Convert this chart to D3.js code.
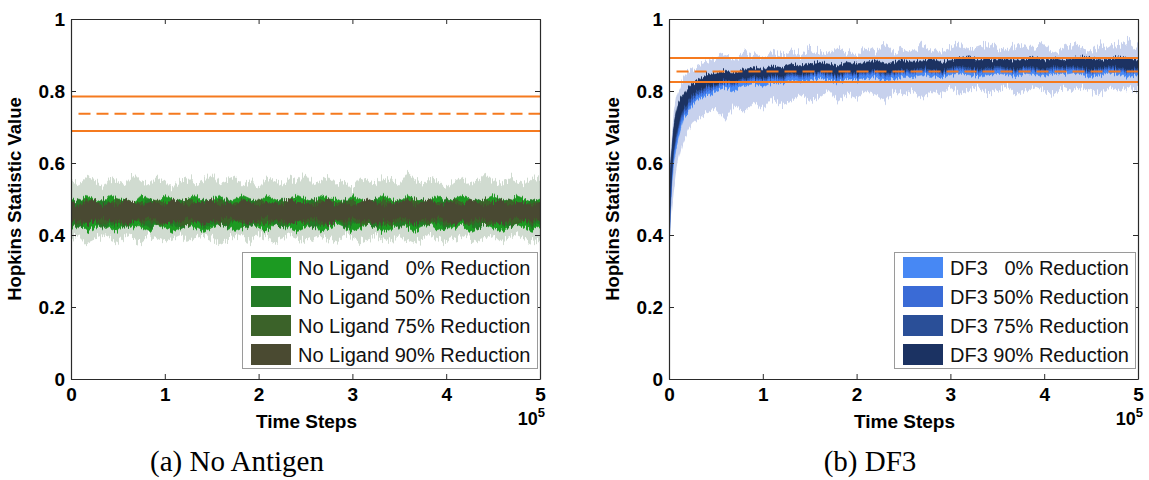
<!DOCTYPE html>
<html><head><meta charset="utf-8">
<script src="https://cdn.jsdelivr.net/npm/d3@7"></script>
<style>
body{margin:0;background:#fff}
svg{display:block}
text{font-family:"Liberation Sans",Arial,Helvetica,sans-serif}
</style>
</head><body>
<svg id="chart" width="1149" height="480">
<defs>
  <filter id="noiseTrace" x="-2%" y="-60%" width="104%" height="220%">
    <feTurbulence type="fractalNoise" baseFrequency="0.9 0.015" numOctaves="2" seed="3" result="t"/>
    <feColorMatrix in="t" type="matrix" values="0 0 0 0 0.5  0 1 0 0 0  0 0 1 0 0  0 0 0 0 1" result="n"/>
    <feDisplacementMap in="SourceGraphic" in2="n" scale="10" xChannelSelector="R" yChannelSelector="G"/>
  </filter>
  <filter id="noiseEnv" x="-2%" y="-60%" width="104%" height="220%">
    <feTurbulence type="fractalNoise" baseFrequency="0.8 0.01" numOctaves="2" seed="7" result="t"/>
    <feColorMatrix in="t" type="matrix" values="0 0 0 0 0.5  0 1 0 0 0  0 0 1 0 0  0 0 0 0 1" result="n"/>
    <feDisplacementMap in="SourceGraphic" in2="n" scale="18" xChannelSelector="R" yChannelSelector="G"/>
  </filter>
</defs>
</svg>
<script>
// ---------- tick labels / categories ----------
const xTicks = [0, 1, 2, 3, 4, 5];
const xTickLabels = ["0", "1", "2", "3", "4", "5"];
const yTicks = [0, 0.2, 0.4, 0.6, 0.8, 1];
const yTickLabels = ["0", "0.2", "0.4", "0.6", "0.8", "1"];

// reference lines: upper solid, dashed, lower solid
const leftRef = [0.785, 0.737, 0.689];
const rightRef = [0.892, 0.854, 0.825];

const leftLegend = ["No Ligand   0% Reduction", "No Ligand 50% Reduction", "No Ligand 75% Reduction", "No Ligand 90% Reduction"];
const rightLegend = ["DF3   0% Reduction", "DF3 50% Reduction", "DF3 75% Reduction", "DF3 90% Reduction"];
const leftColors = ["#1c9a22", "#237a26", "#3b6229", "#4a4a31"];
const rightColors = ["#4788f4", "#3a6bd6", "#2a4f98", "#1b3262"];

// ---------- left panel (No Antigen), values sampled evenly over 0..5 (x10^5) ----------
const leftEnvHi = [
0.55,0.54,0.56,0.55,0.53,0.56,0.55,0.54,0.57,0.55,
0.54,0.56,0.55,0.53,0.55,0.56,0.54,0.55,0.57,0.54,
0.55,0.56,0.54,0.55,0.53,0.56,0.55,0.54,0.56,0.55,
0.57,0.54,0.55,0.56,0.54,0.55,0.53,0.56,0.55,0.54,
0.56,0.55,0.54,0.57,0.55,0.54,0.56,0.55,0.53,0.55,
0.56,0.54,0.55,0.57,0.55,0.54,0.56,0.55,0.54,0.56,
0.55];
const leftEnvLo = [
0.39,0.40,0.38,0.39,0.40,0.39,0.38,0.40,0.39,0.38,
0.40,0.39,0.38,0.39,0.40,0.38,0.39,0.40,0.39,0.38,
0.39,0.40,0.39,0.38,0.40,0.39,0.38,0.39,0.40,0.39,
0.38,0.39,0.40,0.39,0.38,0.40,0.39,0.38,0.39,0.40,
0.39,0.38,0.40,0.39,0.38,0.39,0.40,0.39,0.38,0.39,
0.40,0.39,0.38,0.39,0.40,0.38,0.39,0.40,0.39,0.38,
0.39];
const left0Hi = [
0.50,0.49,0.51,0.50,0.49,0.51,0.50,0.50,0.49,0.51,
0.50,0.49,0.51,0.50,0.49,0.50,0.51,0.49,0.50,0.51,
0.49,0.50,0.51,0.50,0.49,0.51,0.50,0.49,0.50,0.51,
0.50,0.49,0.51,0.50,0.50,0.49,0.51,0.50,0.49,0.50,
0.51,0.50,0.49,0.51,0.50,0.49,0.50,0.51,0.49,0.50,
0.51,0.50,0.49,0.50,0.51,0.50,0.49,0.51,0.50,0.49,
0.50];
const left0Lo = [
0.42,0.43,0.41,0.42,0.43,0.42,0.41,0.43,0.42,0.42,
0.41,0.43,0.42,0.41,0.42,0.43,0.42,0.41,0.42,0.43,
0.42,0.41,0.42,0.43,0.42,0.41,0.43,0.42,0.42,0.41,
0.42,0.43,0.41,0.42,0.43,0.42,0.41,0.42,0.43,0.42,
0.41,0.42,0.43,0.42,0.41,0.42,0.43,0.41,0.42,0.42,
0.43,0.41,0.42,0.43,0.42,0.41,0.42,0.43,0.42,0.41,
0.42];
const left50Hi = [
0.49,0.50,0.49,0.48,0.50,0.49,0.49,0.50,0.48,0.49,
0.50,0.49,0.48,0.49,0.50,0.49,0.48,0.50,0.49,0.49,
0.50,0.48,0.49,0.50,0.49,0.48,0.49,0.50,0.49,0.48,
0.49,0.50,0.49,0.49,0.48,0.50,0.49,0.48,0.49,0.50,
0.49,0.48,0.50,0.49,0.49,0.50,0.48,0.49,0.50,0.49,
0.48,0.49,0.50,0.49,0.48,0.49,0.50,0.49,0.48,0.50,
0.49];
const left50Lo = [
0.43,0.42,0.43,0.44,0.42,0.43,0.43,0.42,0.44,0.43,
0.42,0.43,0.44,0.43,0.42,0.43,0.44,0.42,0.43,0.43,
0.42,0.44,0.43,0.42,0.43,0.44,0.43,0.42,0.43,0.44,
0.43,0.42,0.43,0.43,0.44,0.42,0.43,0.44,0.43,0.42,
0.43,0.44,0.42,0.43,0.43,0.42,0.44,0.43,0.42,0.43,
0.44,0.43,0.42,0.43,0.44,0.43,0.42,0.43,0.44,0.42,
0.43];
const left75Hi = [
0.49,0.48,0.50,0.49,0.48,0.49,0.50,0.48,0.49,0.49,
0.48,0.50,0.49,0.48,0.49,0.50,0.49,0.48,0.49,0.50,
0.48,0.49,0.49,0.48,0.50,0.49,0.48,0.49,0.50,0.49,
0.48,0.49,0.50,0.48,0.49,0.49,0.50,0.48,0.49,0.48,
0.50,0.49,0.48,0.49,0.50,0.48,0.49,0.49,0.48,0.50,
0.49,0.48,0.49,0.50,0.49,0.48,0.50,0.49,0.48,0.49,
0.49];
const left75Lo = [
0.44,0.43,0.43,0.44,0.43,0.44,0.43,0.43,0.44,0.43,
0.44,0.43,0.43,0.44,0.43,0.43,0.44,0.43,0.44,0.43,
0.43,0.44,0.43,0.44,0.43,0.43,0.44,0.43,0.43,0.44,
0.43,0.44,0.43,0.43,0.44,0.43,0.44,0.43,0.43,0.44,
0.43,0.43,0.44,0.43,0.44,0.43,0.43,0.44,0.43,0.43,
0.44,0.43,0.44,0.43,0.43,0.44,0.43,0.43,0.44,0.43,
0.44];
const left90Hi = [
0.49,0.48,0.49,0.50,0.48,0.49,0.48,0.50,0.49,0.48,
0.49,0.49,0.48,0.50,0.49,0.48,0.49,0.49,0.50,0.48,
0.49,0.48,0.50,0.49,0.48,0.49,0.49,0.48,0.50,0.49,
0.49,0.48,0.49,0.50,0.48,0.49,0.48,0.49,0.50,0.49,
0.48,0.49,0.49,0.50,0.48,0.49,0.50,0.48,0.49,0.49,
0.48,0.50,0.49,0.48,0.49,0.50,0.48,0.49,0.49,0.48,
0.49];
const left90Lo = [
0.44,0.44,0.43,0.44,0.45,0.44,0.44,0.43,0.44,0.44,
0.45,0.44,0.43,0.44,0.44,0.45,0.44,0.43,0.44,0.44,
0.45,0.44,0.44,0.43,0.44,0.45,0.44,0.44,0.43,0.44,
0.44,0.45,0.44,0.43,0.44,0.44,0.45,0.44,0.44,0.43,
0.44,0.44,0.45,0.44,0.43,0.44,0.44,0.45,0.44,0.43,
0.44,0.44,0.45,0.44,0.44,0.43,0.44,0.45,0.44,0.44,
0.44];

// ---------- right panel (DF3), sampled at these times (x10^5) ----------
const rightTime = [0,0.01,0.02,0.03,0.05,0.075,0.1,0.15,0.2,0.25,0.3,0.4,0.5,
0.6,0.7,0.8,0.9,1.0,1.1,1.2,1.3,1.4,1.5,
1.6,1.7,1.8,1.9,2.0,2.1,2.2,2.3,2.4,2.5,
2.6,2.7,2.8,2.9,3.0,3.1,3.2,3.3,3.4,3.5,
3.6,3.7,3.8,3.9,4.0,4.1,4.2,4.3,4.4,4.5,
4.6,4.7,4.8,4.9,5.0];
const rightEnvHi = [0.42,0.56,0.63,0.68,0.74,0.78,0.80,0.83,0.85,0.86,0.87,0.88,0.89,
0.90,0.89,0.91,0.90,0.89,0.91,0.90,0.91,0.90,0.92,
0.91,0.90,0.92,0.91,0.90,0.92,0.91,0.93,0.91,0.92,
0.91,0.93,0.92,0.91,0.92,0.93,0.91,0.92,0.93,0.92,
0.91,0.93,0.92,0.92,0.93,0.91,0.92,0.93,0.92,0.91,
0.93,0.92,0.93,0.94,0.92];
const rightEnvLo = [0.36,0.40,0.44,0.47,0.52,0.57,0.61,0.66,0.69,0.71,0.72,0.74,0.75,
0.72,0.76,0.74,0.77,0.75,0.78,0.76,0.77,0.79,0.77,
0.78,0.80,0.77,0.79,0.78,0.80,0.79,0.77,0.80,0.79,
0.80,0.78,0.80,0.79,0.81,0.79,0.80,0.81,0.79,0.80,
0.81,0.79,0.80,0.81,0.80,0.79,0.81,0.80,0.81,0.80,
0.79,0.81,0.80,0.81,0.80];
const right0Hi = [0.40,0.50,0.56,0.60,0.66,0.70,0.73,0.77,0.785,0.80,0.81,0.825,0.83,
0.835,0.83,0.84,0.845,0.84,0.85,0.845,0.855,0.85,0.855,
0.86,0.855,0.85,0.86,0.855,0.86,0.865,0.855,0.86,0.865,
0.86,0.865,0.87,0.86,0.865,0.87,0.875,0.865,0.87,0.865,
0.87,0.865,0.87,0.875,0.865,0.87,0.865,0.87,0.875,0.87,
0.865,0.87,0.875,0.87,0.865];
const right0Lo = [0.36,0.43,0.50,0.54,0.60,0.64,0.67,0.72,0.74,0.76,0.775,0.79,0.80,
0.81,0.80,0.815,0.82,0.81,0.825,0.82,0.83,0.825,0.83,
0.835,0.83,0.825,0.835,0.83,0.835,0.84,0.83,0.835,0.84,
0.84,0.845,0.84,0.835,0.845,0.85,0.845,0.84,0.845,0.85,
0.845,0.84,0.85,0.845,0.84,0.85,0.845,0.85,0.845,0.84,
0.845,0.85,0.845,0.84,0.845];
const right50Hi = [0.41,0.51,0.58,0.62,0.68,0.72,0.75,0.78,0.795,0.81,0.82,0.835,0.84,
0.845,0.84,0.85,0.855,0.85,0.86,0.855,0.865,0.86,0.865,
0.87,0.865,0.86,0.87,0.865,0.87,0.875,0.865,0.87,0.875,
0.87,0.875,0.88,0.87,0.875,0.88,0.885,0.875,0.88,0.875,
0.88,0.875,0.88,0.885,0.875,0.88,0.875,0.88,0.885,0.88,
0.875,0.88,0.885,0.88,0.875];
const right50Lo = [0.37,0.45,0.52,0.56,0.62,0.66,0.69,0.73,0.75,0.77,0.785,0.80,0.81,
0.82,0.815,0.825,0.83,0.825,0.835,0.83,0.84,0.835,0.84,
0.845,0.84,0.835,0.845,0.84,0.845,0.85,0.84,0.845,0.85,
0.85,0.855,0.85,0.845,0.855,0.86,0.855,0.85,0.855,0.86,
0.855,0.85,0.86,0.855,0.85,0.86,0.855,0.86,0.855,0.85,
0.855,0.86,0.855,0.85,0.855];
const right75Hi = [0.41,0.52,0.59,0.63,0.69,0.73,0.76,0.785,0.80,0.815,0.825,0.84,0.845,
0.85,0.845,0.855,0.86,0.855,0.865,0.86,0.87,0.865,0.87,
0.875,0.87,0.865,0.875,0.87,0.875,0.88,0.87,0.875,0.88,
0.875,0.88,0.885,0.875,0.88,0.885,0.89,0.88,0.885,0.88,
0.885,0.88,0.885,0.89,0.88,0.885,0.88,0.885,0.89,0.885,
0.88,0.885,0.89,0.885,0.88];
const right75Lo = [0.37,0.46,0.53,0.57,0.63,0.67,0.70,0.74,0.76,0.78,0.79,0.81,0.815,
0.825,0.82,0.83,0.835,0.83,0.84,0.835,0.845,0.84,0.845,
0.85,0.845,0.84,0.85,0.845,0.85,0.855,0.845,0.85,0.855,
0.855,0.86,0.855,0.85,0.86,0.865,0.86,0.855,0.86,0.865,
0.86,0.855,0.865,0.86,0.855,0.865,0.86,0.865,0.86,0.855,
0.86,0.865,0.86,0.855,0.86];
const right90Hi = [0.42,0.53,0.60,0.64,0.70,0.74,0.77,0.79,0.81,0.82,0.83,0.845,0.85,
0.855,0.85,0.86,0.865,0.86,0.87,0.865,0.875,0.87,0.875,
0.88,0.875,0.87,0.88,0.875,0.88,0.885,0.875,0.88,0.885,
0.88,0.885,0.89,0.88,0.885,0.89,0.895,0.885,0.89,0.885,
0.89,0.885,0.89,0.895,0.885,0.89,0.885,0.89,0.895,0.89,
0.885,0.89,0.895,0.89,0.885];
const right90Lo = [0.38,0.47,0.54,0.58,0.64,0.68,0.71,0.75,0.77,0.79,0.80,0.815,0.82,
0.83,0.825,0.835,0.84,0.835,0.845,0.84,0.85,0.845,0.85,
0.855,0.85,0.845,0.855,0.85,0.855,0.86,0.85,0.855,0.86,
0.86,0.865,0.86,0.855,0.865,0.87,0.865,0.86,0.865,0.87,
0.865,0.86,0.87,0.865,0.86,0.87,0.865,0.87,0.865,0.86,
0.865,0.87,0.865,0.86,0.865];

const leftTime = leftEnvHi.map((_, i) => i * 5 / (leftEnvHi.length - 1));

const panels = [
  { x0: 71, x1: 540, time: leftTime, envHi: leftEnvHi, envLo: leftEnvLo, envFill: "#8eaa8e", envOpacity: 0.42,
    series: [[left0Lo, left0Hi], [left50Lo, left50Hi], [left75Lo, left75Hi], [left90Lo, left90Hi]],
    colors: leftColors, legend: leftLegend, ref: leftRef,
    legendBox: { x: 242, w: 295 }, caption: "(a) No Antigen", capX: 237 },
  { x0: 669, x1: 1138, time: rightTime, envHi: rightEnvHi, envLo: rightEnvLo, envFill: "#8fa4dc", envOpacity: 0.5,
    series: [[right0Lo, right0Hi], [right50Lo, right50Hi], [right75Lo, right75Hi], [right90Lo, right90Hi]],
    colors: rightColors, legend: rightLegend, ref: rightRef,
    legendBox: { x: 894, w: 241 }, caption: "(b) DF3", capX: 870 }
];

const svg = d3.select("#chart");
const Y0 = 19, Y1 = 379;
const orange = "#f57a1f";

panels.forEach((p, pi) => {
  const x = d3.scaleLinear().domain([0, 5]).range([p.x0, p.x1]);
  const y = d3.scaleLinear().domain([0, 1]).range([Y1, Y0]);
  const g = svg.append("g");
  const idx = d3.range(p.time.length);

  // clip to plot area
  const clipId = "clip" + pi;
  svg.select("defs").append("clipPath").attr("id", clipId)
    .append("rect").attr("x", p.x0).attr("y", Y0).attr("width", p.x1 - p.x0).attr("height", Y1 - Y0);
  const data = g.append("g").attr("clip-path", `url(#${clipId})`);

  // light envelope
  data.append("g").attr("filter", "url(#noiseEnv)").append("path")
    .attr("d", d3.area().x(i => x(p.time[i])).y0(i => y(p.envLo[i])).y1(i => y(p.envHi[i]))(idx))
    .attr("fill", p.envFill).attr("opacity", p.envOpacity);

  // series traces
  const tr = data.append("g").attr("filter", "url(#noiseTrace)");
  p.series.forEach((s, k) => {
    tr.append("path")
      .attr("d", d3.area().x(i => x(p.time[i])).y0(i => y(s[0][i])).y1(i => y(s[1][i]))(idx))
      .attr("fill", p.colors[k]).attr("stroke", p.colors[k]).attr("stroke-width", 0.6);
  });

  // reference lines
  p.ref.forEach((v, k) => {
    g.append("line")
      .attr("x1", k === 1 ? x(0.08) : x(0)).attr("x2", x(5))
      .attr("y1", y(v)).attr("y2", y(v))
      .attr("stroke", orange).attr("stroke-width", 2)
      .attr("stroke-dasharray", k === 1 ? "12,6" : null);
  });

  // axes (box with inward ticks)
  const fontTick = "bold 19px 'Liberation Sans', Arial, sans-serif";
  const ax = [
    g.append("g").attr("transform", `translate(0,${Y1})`).call(d3.axisBottom(x).tickValues(xTicks).tickFormat((d, i) => xTickLabels[i]).tickSizeInner(-5).tickSizeOuter(0).tickPadding(9)),
    g.append("g").attr("transform", `translate(0,${Y0})`).call(d3.axisTop(x).tickValues(xTicks).tickFormat("").tickSizeInner(-5).tickSizeOuter(0)),
    g.append("g").attr("transform", `translate(${p.x0},0)`).call(d3.axisLeft(y).tickValues(yTicks).tickFormat((d, i) => yTickLabels[i]).tickSizeInner(-5).tickSizeOuter(0).tickPadding(6)),
    g.append("g").attr("transform", `translate(${p.x1},0)`).call(d3.axisRight(y).tickValues(yTicks).tickFormat("").tickSizeInner(-5).tickSizeOuter(0))
  ];
  ax.forEach(a => {
    a.select(".domain").attr("stroke", "#2a2a2a").attr("stroke-width", 1.2);
    a.selectAll(".tick line").attr("stroke", "#2a2a2a");
    a.selectAll("text").style("font", fontTick).attr("fill", "#000");
  });

  // axis titles
  g.append("text").attr("x", (p.x0 + p.x1) / 2 + 1).attr("y", 428)
    .attr("text-anchor", "middle").style("font", "bold 19px 'Liberation Sans', Arial, sans-serif").text("Time Steps");
  const ex = g.append("text").attr("x", p.x1 + 5).attr("y", 425).attr("text-anchor", "end")
    .style("font", "bold 18px 'Liberation Sans', Arial, sans-serif");
  ex.append("tspan").text("10");
  ex.append("tspan").attr("dy", -8).style("font-size", "13px").text("5");
  g.append("text").attr("transform", `translate(${p.x0 - 50},${(Y0 + Y1) / 2}) rotate(-90)`)
    .attr("text-anchor", "middle").style("font", "bold 18.5px 'Liberation Sans', Arial, sans-serif").text("Hopkins Statistic Value");

  // legend
  const lb = p.legendBox;
  g.append("rect").attr("x", lb.x + 0.5).attr("y", 252.5).attr("width", lb.w).attr("height", 116)
    .attr("fill", "#fff").attr("stroke", "#9a9a9a").attr("stroke-width", 1);
  p.legend.forEach((t, k) => {
    const cy = 267.5 + k * 29;
    g.append("rect").attr("x", lb.x + 9).attr("y", cy - 10.5).attr("width", 40).attr("height", 21)
      .attr("fill", p.colors[k]);
    g.append("text").attr("x", lb.x + 56).attr("y", cy + 7).style("white-space", "pre").attr("xml:space", "preserve")
      .style("font", "20px 'Liberation Sans', Arial, sans-serif").attr("fill", "#111").text(t);
  });

  // caption
  g.append("text").attr("x", p.capX).attr("y", 471).attr("text-anchor", "middle")
    .style("font", "29px 'Liberation Serif', 'Times New Roman', serif").style("white-space", "pre").text(p.caption);
});
</script>
</body></html>
